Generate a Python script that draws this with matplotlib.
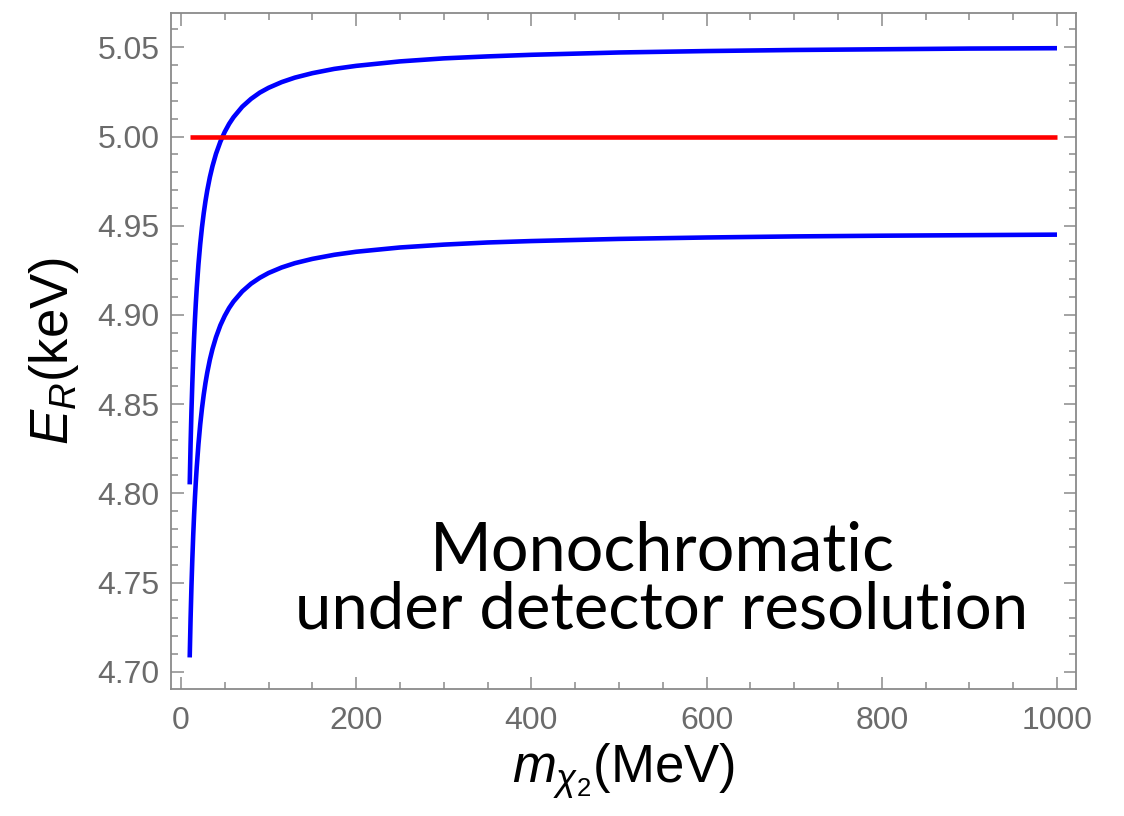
import numpy as np
import matplotlib
matplotlib.use("Agg")
import matplotlib.pyplot as plt
from matplotlib.ticker import MultipleLocator, FormatStrFormatter

plt.rcParams['font.family'] = ['Liberation Sans', 'DejaVu Sans']
plt.rcParams['mathtext.fontset'] = 'custom'
plt.rcParams['mathtext.rm'] = 'Liberation Sans'
plt.rcParams['mathtext.it'] = 'Liberation Sans:italic'

# dark matter mass (MeV) and recoil energy bands (keV)
m_chi2 = [10, 11, 12, 13, 14, 15, 16, 17, 18, 20, 22, 24, 26, 28, 30, 33,
          36, 40, 45, 50, 55, 60, 70, 80, 90, 100, 115, 130, 150, 175, 200,
          250, 300, 350, 400, 500, 600, 700, 800, 900, 1000]
er_upper = [4.8050, 4.8275, 4.8462, 4.8620, 4.8756, 4.8873, 4.8976, 4.9067,
            4.9148, 4.9285, 4.9397, 4.9491, 4.9570, 4.9638, 4.9697, 4.9772,
            4.9834, 4.9903, 4.9971, 5.0026, 5.0071, 5.0108, 5.0167, 5.0211,
            5.0246, 5.0273, 5.0305, 5.0330, 5.0355, 5.0379, 5.0396, 5.0421,
            5.0438, 5.0449, 5.0458, 5.0471, 5.0479, 5.0485, 5.0489, 5.0493,
            5.0495]
er_lower = [4.7080, 4.7298, 4.7479, 4.7632, 4.7764, 4.7878, 4.7978, 4.8066,
            4.8144, 4.8277, 4.8386, 4.8476, 4.8553, 4.8619, 4.8676, 4.8749,
            4.8809, 4.8875, 4.8942, 4.8995, 4.9039, 4.9075, 4.9132, 4.9175,
            4.9208, 4.9235, 4.9266, 4.9290, 4.9314, 4.9337, 4.9354, 4.9378,
            4.9394, 4.9406, 4.9414, 4.9426, 4.9434, 4.9440, 4.9444, 4.9447,
            4.9450]
er_mono = 5.00

frame_gray = '#8a8a8a'
label_gray = '#6b6b6b'

fig = plt.figure(figsize=(11.24, 8.16), dpi=100)
ax = fig.add_axes([0.1521, 0.1556, 0.8052, 0.8284])

ax.plot(m_chi2, er_upper, color='#0000ff', lw=3.3, solid_capstyle='butt')
ax.plot(m_chi2, er_lower, color='#0000ff', lw=3.3, solid_capstyle='butt')
ax.plot([m_chi2[0], m_chi2[-1]], [er_mono, er_mono], color='#ff0000', lw=3.3,
        solid_capstyle='butt')

ax.set_xlim(-11.4, 1021.7)
ax.set_ylim(4.6903, 5.0692)

ax.xaxis.set_major_locator(MultipleLocator(200))
ax.xaxis.set_minor_locator(MultipleLocator(50))
ax.yaxis.set_major_locator(MultipleLocator(0.05))
ax.yaxis.set_minor_locator(MultipleLocator(0.01))
ax.yaxis.set_major_formatter(FormatStrFormatter('%.2f'))

for s in ax.spines.values():
    s.set_color(frame_gray)
    s.set_linewidth(1.3)

ax.tick_params(which='both', direction='in', top=True, right=True,
               color=frame_gray, width=1.1, labelcolor=label_gray,
               labelsize=23)
ax.tick_params(which='major', length=9, pad=8)
ax.tick_params(which='minor', length=5)
ax.tick_params(axis='x', which='major', pad=12)

ax.set_xlabel(r'$m_{\chi_2}$(MeV)', fontsize=38, labelpad=4)
ax.set_ylabel(r'$E_R$(keV)', fontsize=38, labelpad=12)

ax.text(549, 4.757, 'Monochromatic', ha='center', va='baseline',
        fontsize=48, family='Lato')
ax.text(549, 4.7245, 'under detector resolution', ha='center',
        va='baseline', fontsize=47, family='Lato')

fig.savefig('out.png', dpi=100)
